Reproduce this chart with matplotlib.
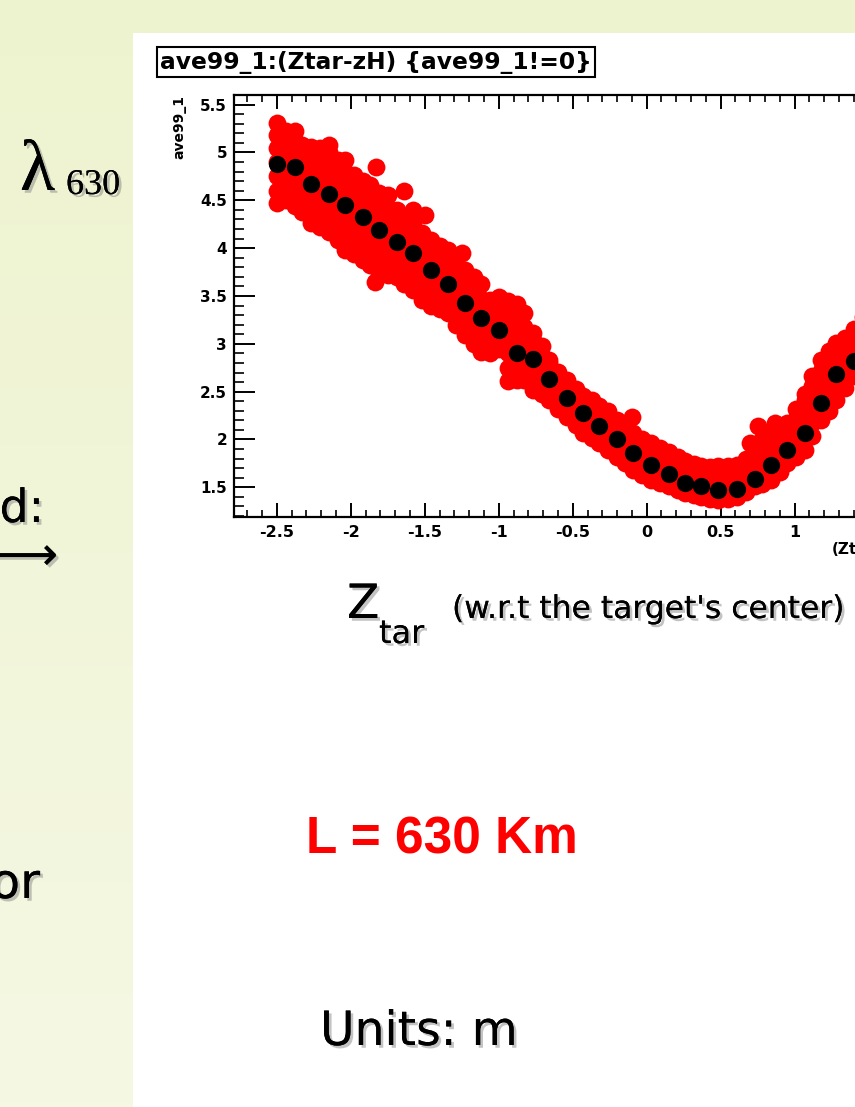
import matplotlib
matplotlib.use("Agg")
import matplotlib.pyplot as plt
import matplotlib.patheffects as pe
from matplotlib.patches import Rectangle
from matplotlib.ticker import MultipleLocator
import numpy as np

W, H = 855, 1107

# ── profile points (black) ─────────────────────────────────────────── #
prof_x = [-2.50, -2.38, -2.27, -2.15, -2.04, -1.92, -1.81, -1.69, -1.58, -1.46,
          -1.34, -1.23, -1.12, -1.00, -0.88, -0.77, -0.66, -0.54, -0.43, -0.32,
          -0.20, -0.09, 0.03, 0.15, 0.26, 0.37, 0.48, 0.61, 0.73, 0.84,
          0.95, 1.07, 1.18, 1.28, 1.40]
prof_y = [4.88, 4.85, 4.67, 4.57, 4.45, 4.32, 4.19, 4.06, 3.95, 3.77,
          3.62, 3.43, 3.27, 3.14, 2.90, 2.84, 2.63, 2.43, 2.28, 2.14,
          2.00, 1.86, 1.73, 1.64, 1.55, 1.51, 1.47, 1.48, 1.59, 1.73,
          1.89, 2.07, 2.38, 2.68, 2.82]

# ── scatter cloud (red), read column by column ─────────────────────── #
red_col_x = [-2.50, -2.44, -2.38, -2.33, -2.27, -2.21, -2.15, -2.09, -2.04, -1.98,
             -1.92, -1.87, -1.81, -1.75, -1.69, -1.64, -1.58, -1.52, -1.46, -1.40,
             -1.34, -1.29, -1.23, -1.17, -1.12, -1.06, -1.00, -0.94, -0.88, -0.83,
             -0.77, -0.71, -0.66, -0.60, -0.54, -0.48, -0.43, -0.37, -0.32, -0.26,
             -0.20, -0.15, -0.09, -0.03, 0.03, 0.09, 0.15, 0.21, 0.26, 0.32,
             0.37, 0.43, 0.48, 0.55, 0.61, 0.67, 0.73, 0.78, 0.84, 0.90,
             0.95, 1.01, 1.07, 1.12, 1.18, 1.23, 1.28, 1.34, 1.40, 1.46]
red_col_y = [
    [4.47, 4.60, 4.75, 4.90, 5.05, 5.18, 5.31],
    [4.50, 4.65, 4.80, 4.95, 5.10, 5.22],
    [4.44, 4.58, 4.72, 4.86, 5.00, 5.12, 5.22],
    [4.38, 4.52, 4.66, 4.80, 4.94, 5.08],
    [4.26, 4.40, 4.54, 4.68, 4.82, 4.95, 5.06],
    [4.22, 4.36, 4.50, 4.64, 4.78, 4.92, 5.05],
    [4.17, 4.31, 4.45, 4.59, 4.73, 4.87, 5.00, 5.08],
    [4.08, 4.22, 4.36, 4.50, 4.64, 4.78, 4.92],
    [3.98, 4.12, 4.26, 4.40, 4.54, 4.68, 4.80, 4.92],
    [3.94, 4.08, 4.22, 4.36, 4.50, 4.63, 4.76],
    [3.88, 4.02, 4.16, 4.30, 4.44, 4.58, 4.70],
    [3.82, 3.96, 4.10, 4.24, 4.38, 4.52, 4.66],
    [3.74, 3.88, 4.02, 4.16, 4.30, 4.44, 4.58],
    [3.72, 3.86, 4.00, 4.14, 4.28, 4.42, 4.56],
    [3.70, 3.84, 3.98, 4.12, 4.26, 4.40],
    [3.62, 3.76, 3.90, 4.04, 4.18, 4.32, 4.60],
    [3.56, 3.70, 3.84, 3.98, 4.12, 4.26, 4.40],
    [3.46, 3.60, 3.74, 3.88, 4.02, 4.16],
    [3.39, 3.53, 3.67, 3.81, 3.95, 4.08],
    [3.36, 3.50, 3.64, 3.78, 3.92, 4.02],
    [3.32, 3.45, 3.58, 3.72, 3.85, 3.98],
    [3.20, 3.34, 3.48, 3.62, 3.76, 3.88],
    [3.09, 3.23, 3.37, 3.51, 3.65, 3.77],
    [3.00, 3.14, 3.28, 3.42, 3.56, 3.70],
    [2.91, 3.05, 3.19, 3.33, 3.47, 3.62],
    [2.90, 3.04, 3.18, 3.32, 3.46],
    [2.95, 3.08, 3.21, 3.35, 3.49],
    [2.61, 2.75, 2.90, 3.05, 3.20, 3.35, 3.45],
    [2.62, 2.76, 2.90, 3.04, 3.18, 3.32, 3.42],
    [2.62, 2.76, 2.90, 3.04, 3.18, 3.32],
    [2.52, 2.65, 2.78, 2.91, 3.04, 3.11],
    [2.48, 2.61, 2.74, 2.87, 2.98],
    [2.41, 2.54, 2.67, 2.80, 2.83],
    [2.32, 2.45, 2.58, 2.71],
    [2.24, 2.37, 2.50, 2.62],
    [2.15, 2.28, 2.41, 2.53],
    [2.07, 2.20, 2.33, 2.45],
    [2.02, 2.15, 2.28, 2.41],
    [1.96, 2.09, 2.22, 2.35],
    [1.89, 2.02, 2.15, 2.30],
    [1.82, 1.95, 2.08, 2.20],
    [1.75, 1.88, 2.01, 2.14],
    [1.68, 1.81, 1.94, 2.07],
    [1.63, 1.76, 1.89, 2.01],
    [1.58, 1.71, 1.84, 1.96],
    [1.55, 1.67, 1.79, 1.91],
    [1.51, 1.63, 1.75, 1.87],
    [1.47, 1.59, 1.71, 1.82],
    [1.44, 1.56, 1.67, 1.77],
    [1.42, 1.53, 1.64, 1.74],
    [1.40, 1.51, 1.62, 1.72],
    [1.38, 1.49, 1.60, 1.71],
    [1.37, 1.48, 1.60, 1.72],
    [1.38, 1.49, 1.60, 1.72],
    [1.40, 1.51, 1.62, 1.73],
    [1.45, 1.56, 1.68, 1.80],
    [1.51, 1.62, 1.74, 1.86, 1.91],
    [1.54, 1.66, 1.78, 1.90, 2.00],
    [1.58, 1.70, 1.82, 1.94, 2.07],
    [1.66, 1.78, 1.90, 2.02, 2.12],
    [1.75, 1.87, 1.99, 2.11, 2.17],
    [1.82, 1.95, 2.08, 2.21, 2.32],
    [1.89, 2.02, 2.15, 2.28, 2.41, 2.48],
    [2.04, 2.17, 2.30, 2.43, 2.56, 2.66],
    [2.20, 2.33, 2.46, 2.59, 2.72, 2.83],
    [2.30, 2.43, 2.56, 2.69, 2.82, 2.92],
    [2.41, 2.54, 2.67, 2.80, 2.93, 3.01],
    [2.54, 2.67, 2.80, 2.93, 3.06],
    [2.66, 2.79, 2.92, 3.05, 3.15],
    [2.78, 2.91, 3.04, 3.17, 3.28],
]
# stray points away from the band
out_x = [-1.83, -1.84, -1.50, -1.25, -0.10, 0.70, 0.75, 0.87, 0.81]
out_y = [4.85, 3.65, 4.35, 3.95, 2.24, 1.96, 2.14, 2.17, 2.02]


def px(x):
    return x / W


def py(y):
    return 1 - y / H


fig = plt.figure(figsize=(W / 100, H / 100), dpi=100)

# ── slide background ──────────────────────────────────────────────── #
bg = fig.add_axes([0, 0, 1, 1], zorder=-10)
top_c = np.array([238, 243, 207]) / 255
bot_c = np.array([245, 248, 227]) / 255
t = np.linspace(0, 1, 256)[:, None]
grad = (top_c[None, :] * (1 - t) + bot_c[None, :] * t)[:, None, :]
bg.imshow(grad, aspect="auto", extent=[0, 1, 0, 1])
bg.add_patch(Rectangle((px(133), 0), 1, py(33), color="white", lw=0))
bg.set_xlim(0, 1)
bg.set_ylim(0, 1)
bg.axis("off")

shadow = [pe.withSimplePatchShadow(offset=(2, -2), shadow_rgbFace="#888888", alpha=0.5),
          pe.Normal()]

# ── plot ─────────────────────────────────────────────────────────── #
ax_l, ax_r, ax_t, ax_b = 234, 910, 95, 517
ax = fig.add_axes([px(ax_l), py(ax_b), (ax_r - ax_l) / W, (ax_b - ax_t) / H])
ax.set_facecolor("white")

red_x = [x for x, col in zip(red_col_x, red_col_y) for _ in col] + out_x
red_y = [y for col in red_col_y for y in col] + out_y
ax.scatter(red_x, red_y, s=165, color="#ff0000", linewidths=0, zorder=2)
ax.scatter(prof_x, prof_y, s=155, color="black", linewidths=0, zorder=3)

ax.set_xlim(-2.79, 1.78)
ax.set_ylim(1.19, 5.60)
ax.xaxis.set_major_locator(MultipleLocator(0.5))
ax.xaxis.set_minor_locator(MultipleLocator(0.1))
ax.yaxis.set_major_locator(MultipleLocator(0.5))
ax.yaxis.set_minor_locator(MultipleLocator(0.1))
ax.tick_params(axis="x", which="major", direction="in", length=10, width=1.4,
               top=True, pad=6)
ax.tick_params(axis="x", which="minor", direction="in", length=5, width=1.2, top=True)
ax.tick_params(axis="y", which="major", direction="in", length=15, width=1.4,
               right=True, pad=5)
ax.tick_params(axis="y", which="minor", direction="in", length=7.5, width=1.2, right=True)
ax.xaxis.set_major_formatter(plt.FuncFormatter(lambda v, p: f"{v:g}"))
ax.yaxis.set_major_formatter(plt.FuncFormatter(lambda v, p: f"{v:g}"))
for lab in ax.get_xticklabels():
    lab.set_fontweight("bold")
    lab.set_fontsize(11.5)
for lab in ax.get_yticklabels():
    lab.set_fontweight("bold")
    lab.set_fontsize(11)
for sp in ax.spines.values():
    sp.set_linewidth(1.6)

fig.text(px(179), py(95), "ave99_1", rotation=90, ha="center", va="top",
         fontsize=10, fontweight="bold")
fig.text(px(ax_r), py(550), "(Ztar-zH)", ha="right", va="center",
         fontsize=11, fontweight="bold")

# title box
fig.text(px(160), py(62), "ave99_1:(Ztar-zH) {ave99_1!=0}", ha="left", va="center",
         fontsize=16.8, fontweight="bold",
         bbox=dict(boxstyle="square,pad=0.14", fc="white", ec="black", lw=1.5))

# ── slide texts ──────────────────────────────────────────────────── #
fig.text(px(347), py(618), "Z", fontsize=34, ha="left", va="baseline",
         path_effects=shadow)
fig.text(px(379), py(643), "tar", fontsize=23, ha="left", va="baseline",
         path_effects=shadow)
fig.text(px(452), py(618), "(w.r.t the target's center)", fontsize=22.6,
         ha="left", va="baseline", path_effects=shadow)

fig.text(px(306), py(853), "L = 630 Km", fontsize=37, ha="left", va="baseline",
         color="#ff0000", fontweight="bold", family="Liberation Sans")

fig.text(px(320), py(1045), "Units: m", fontsize=34, ha="left", va="baseline",
         path_effects=shadow)

# cut-off text from the left column
fig.text(px(20), py(190), "λ", fontsize=52, ha="left", va="baseline",
         family="Liberation Serif", path_effects=shadow)
fig.text(px(66), py(194), "630", fontsize=26, ha="left", va="baseline",
         family="Liberation Serif", path_effects=shadow)
fig.text(px(44), py(522), "d:", fontsize=33, ha="right", va="baseline",
         path_effects=shadow)
fig.text(px(58), py(557), "⟶", fontsize=33, ha="right", va="center",
         family=["DejaVu Sans"], path_effects=shadow)
fig.text(px(40), py(898), "or", fontsize=35, ha="right", va="baseline",
         path_effects=shadow)

fig.savefig("out.png", dpi=100)
